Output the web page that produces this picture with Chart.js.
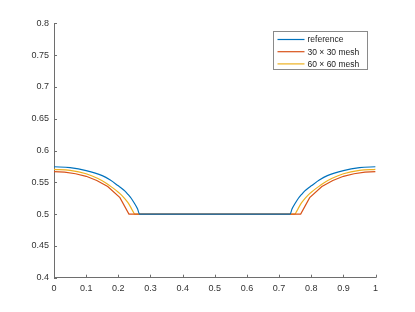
<!DOCTYPE html>
<html>
<head>
<meta charset="utf-8">
<script src="https://cdn.jsdelivr.net/npm/chart.js@4.4.1/dist/chart.umd.min.js"></script>
<style>
  html, body { margin: 0; padding: 0; background: #fff; }
  #wrap { width: 415px; height: 312px; }
</style>
</head>
<body>
<div id="wrap"><canvas id="chart" width="415" height="312"></canvas></div>
<script>
const seriesNames = ["reference", "30 \u00d7 30 mesh", "60 \u00d7 60 mesh"];
const seriesColors = ["#0072BD", "#D95319", "#EDB120"];

const refX = [0, 0.05, 0.1, 0.15, 0.175, 0.2, 0.21, 0.22, 0.23, 0.24, 0.25, 0.26, 0.266,
              0.734, 0.74, 0.75, 0.76, 0.77, 0.78, 0.79, 0.8, 0.825, 0.85, 0.9, 0.95, 1];
const refY = [0.5745, 0.573, 0.5685, 0.5605, 0.5535, 0.5445, 0.5408, 0.5365, 0.531, 0.525, 0.517, 0.508, 0.5,
              0.5, 0.508, 0.517, 0.525, 0.531, 0.5365, 0.5408, 0.5445, 0.5535, 0.5605, 0.5685, 0.573, 0.5745];

const m30X = [0, 0.033, 0.067, 0.1, 0.133, 0.167, 0.205, 0.233, 0.767, 0.795, 0.833, 0.867, 0.9, 0.933, 0.967, 1];
const m30Y = [0.5667, 0.566, 0.5635, 0.5595, 0.553, 0.5435, 0.526, 0.5, 0.5, 0.526, 0.5435, 0.553, 0.5595, 0.5635, 0.566, 0.5667];

const m60X = [0, 0.05, 0.1, 0.135, 0.16, 0.185, 0.2, 0.21, 0.22, 0.23, 0.24, 0.246, 0.251,
              0.749, 0.754, 0.76, 0.77, 0.78, 0.79, 0.8, 0.815, 0.84, 0.865, 0.9, 0.95, 1];
const m60Y = [0.5705, 0.5688, 0.5635, 0.5565, 0.5495, 0.5405, 0.5345, 0.53, 0.5245, 0.518, 0.5095, 0.504, 0.5,
              0.5, 0.504, 0.5095, 0.518, 0.5245, 0.53, 0.5345, 0.5405, 0.5495, 0.5565, 0.5635, 0.5688, 0.5705];

const xTicks = [0, 0.1, 0.2, 0.3, 0.4, 0.5, 0.6, 0.7, 0.8, 0.9, 1];
const yTicks = [0.4, 0.45, 0.5, 0.55, 0.6, 0.65, 0.7, 0.75, 0.8];

function pts(xs, ys) {
  return xs.map(function (x, i) { return { x: x, y: ys[i] }; });
}

const axisColor = "#6e6e6e";
const textColor = "#333333";

// inward tick marks, MATLAB style
const innerTicks = {
  id: "innerTicks",
  afterDraw: function (chart) {
    const ctx = chart.ctx;
    const xs = chart.scales.x, ys = chart.scales.y;
    const a = chart.chartArea;
    ctx.save();
    ctx.strokeStyle = axisColor;
    ctx.lineWidth = 1;
    ctx.beginPath();
    xTicks.forEach(function (v) {
      const p = Math.round(xs.getPixelForValue(v)) + 0.5;
      ctx.moveTo(p, a.bottom);
      ctx.lineTo(p, a.bottom - 3);
    });
    yTicks.forEach(function (v) {
      const p = Math.round(ys.getPixelForValue(v)) + 0.5;
      ctx.moveTo(a.left, p);
      ctx.lineTo(a.left + 3, p);
    });
    ctx.stroke();
    ctx.restore();
  }
};

// legend box in the upper right corner
const boxLegend = {
  id: "boxLegend",
  afterDraw: function (chart) {
    const ctx = chart.ctx;
    const left = 273.5, top = 31.5, w = 94, h = 38;
    ctx.save();
    ctx.fillStyle = "#fff";
    ctx.fillRect(left, top, w, h);
    ctx.strokeStyle = "#8a8a8a";
    ctx.lineWidth = 1;
    ctx.strokeRect(left, top, w, h);
    ctx.font = "8.5px 'Liberation Sans', Arial, sans-serif";
    ctx.textBaseline = "middle";
    ctx.fillStyle = "#222";
    chart.data.datasets.forEach(function (ds, i) {
      const y = top + 8 + i * 12.2;
      ctx.strokeStyle = ds.borderColor;
      ctx.lineWidth = 1.2;
      ctx.beginPath();
      ctx.moveTo(left + 4, y);
      ctx.lineTo(left + 31, y);
      ctx.stroke();
      ctx.fillText(ds.label, left + 34, y + 0.5);
    });
    ctx.restore();
  }
};

new Chart(document.getElementById("chart"), {
  type: "line",
  data: {
    datasets: [
      { label: seriesNames[0], data: pts(refX, refY), borderColor: seriesColors[0], cubicInterpolationMode: "monotone" },
      { label: seriesNames[1], data: pts(m30X, m30Y), borderColor: seriesColors[1], tension: 0 },
      { label: seriesNames[2], data: pts(m60X, m60Y), borderColor: seriesColors[2], cubicInterpolationMode: "monotone" }
    ]
  },
  options: {
    responsive: false,
    animation: false,
    layout: { padding: { left: 0, right: 39.4, top: 23.4, bottom: 0 } },
    elements: {
      point: { radius: 0 },
      line: { borderWidth: 1.2, fill: false }
    },
    plugins: { legend: { display: false }, tooltip: { enabled: false } },
    scales: {
      x: {
        type: "linear",
        min: 0, max: 1,
        afterBuildTicks: function (s) { s.ticks = xTicks.map(function (v) { return { value: v }; }); },
        afterFit: function (s) { s.height = 34.3; },
        grid: { display: false, drawTicks: false },
        border: { display: true, color: axisColor, width: 1 },
        ticks: {
          color: textColor, padding: 5, maxRotation: 0,
          font: { family: "'Liberation Sans', Arial, sans-serif", size: 9 },
          callback: function (v) { return String(v); }
        }
      },
      y: {
        type: "linear",
        min: 0.4, max: 0.8,
        afterBuildTicks: function (s) { s.ticks = yTicks.map(function (v) { return { value: v }; }); },
        afterFit: function (s) { s.width = 54; },
        grid: { display: false, drawTicks: false },
        border: { display: true, color: axisColor, width: 1 },
        ticks: {
          color: textColor, padding: 5,
          font: { family: "'Liberation Sans', Arial, sans-serif", size: 9 },
          callback: function (v) { return String(v); }
        }
      }
    }
  },
  plugins: [innerTicks, boxLegend]
});
</script>
</body>
</html>
